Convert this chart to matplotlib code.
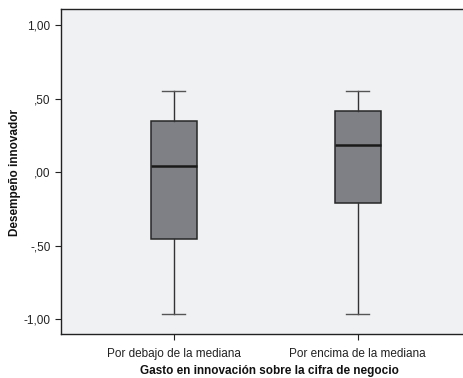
import matplotlib
matplotlib.use("Agg")
import matplotlib.pyplot as plt

categorias = ["Por debajo de la mediana", "Por encima de la mediana"]
bigote_inf = [-0.966, -0.966]
q1 = [-0.456, -0.211]
mediana = [0.038, 0.181]
q3 = [0.349, 0.412]
bigote_sup = [0.553, 0.553]
ticks_y = [-1.0, -0.5, 0.0, 0.5, 1.0]
etiquetas_y = ["-1,00", "-,50", ",00", ",50", "1,00"]

plt.rcParams['font.family'] = ['Liberation Sans', 'DejaVu Sans']

stats = []
for i, cat in enumerate(categorias):
    stats.append({
        "label": cat,
        "whislo": bigote_inf[i],
        "q1": q1[i],
        "med": mediana[i],
        "q3": q3[i],
        "whishi": bigote_sup[i],
        "fliers": [],
    })

fig = plt.figure(figsize=(4.64, 3.78), dpi=100)
ax = fig.add_axes([61 / 464, 44 / 378, 1 - 61 / 464, 325 / 378])
ax.set_facecolor("#f0f1f3")

ax.bxp(stats, positions=[1, 2], widths=0.25, patch_artist=True, showfliers=False,
       boxprops=dict(facecolor="#7f8085", edgecolor="#262626", linewidth=1.1),
       medianprops=dict(color="#1a1a1a", linewidth=1.8),
       whiskerprops=dict(color="#333333", linewidth=1.0),
       capprops=dict(color="#555555", linewidth=1.0),
       capwidths=0.125)

ax.set_xlim(0.3875, 2.579)
ax.set_ylim(-1.102, 1.109)
ax.set_yticks(ticks_y)
ax.set_yticklabels(etiquetas_y)
ax.set_xticks([1, 2])
ax.set_xticklabels(categorias)
ax.tick_params(axis="both", labelsize=8.5, colors="#222222", length=4, width=0.8)
ax.tick_params(axis="x", pad=6)

for s in ["left", "top", "bottom"]:
    ax.spines[s].set_color("#222222")
    ax.spines[s].set_linewidth(1.0)
ax.spines["right"].set_visible(False)

# titulos de los ejes colocados a mano en pixeles de la figura
fig.text(269 / 464, 1 - 371 / 378, "Gasto en innovación sobre la cifra de negocio",
         fontsize=8.5, fontweight="bold", ha="center", va="center", color="#111111")
fig.text(15 / 464, 1 - 172 / 378, "Desempeño innovador", rotation=90,
         fontsize=8.5, fontweight="bold", ha="center", va="center", color="#111111")

fig.savefig("out.png", dpi=100)
